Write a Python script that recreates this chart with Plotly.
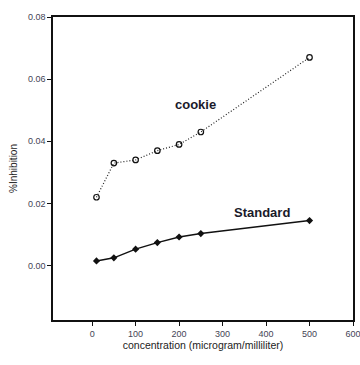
import plotly.graph_objects as go

conc = [10, 50, 100, 150, 200, 250, 500]
cookie = [0.022, 0.033, 0.034, 0.037, 0.039, 0.043, 0.067]
standard = [0.0015, 0.0025, 0.0053, 0.0074, 0.0092, 0.0103, 0.0145]

fig = go.Figure()
fig.add_trace(go.Scatter(x=conc, y=cookie, mode="lines+markers",
                         line=dict(color="#222", width=1.2, dash="1px,2px"),
                         marker=dict(symbol="circle-open", size=5.5, color="#111", line=dict(width=1.2))))
fig.add_trace(go.Scatter(x=conc, y=standard, mode="lines+markers",
                         line=dict(color="#111", width=1.5),
                         marker=dict(symbol="diamond", size=5.5, color="#111")))

fig.add_annotation(x=237, y=0.052, text="<b>cookie</b>", showarrow=False,
                   font=dict(family="Liberation Sans Narrow, Liberation Sans", size=13, color="#1a1a2a"))
fig.add_annotation(x=390, y=0.0172, text="<b>Standard</b>", showarrow=False,
                   font=dict(family="Liberation Sans Narrow, Liberation Sans", size=13, color="#1a1a2a"))

axis_common = dict(showline=True, linecolor="#111", linewidth=1.5, mirror=True, automargin=False,
                   ticks="outside", ticklen=4, tickcolor="#111", showgrid=False, zeroline=False,
                   ticklabeloverflow="allow",
                   tickfont=dict(family="Liberation Sans Narrow, Liberation Sans", size=9, color="#445"))

fig.update_xaxes(range=[-90, 600], tickvals=[0, 100, 200, 300, 400, 500, 600],
                 title=dict(text="concentration (microgram/milliliter)", standoff=2,
                            font=dict(family="Liberation Sans Narrow, Liberation Sans", size=10.5, color="#222")),
                 **axis_common)
fig.update_yaxes(range=[-0.0175, 0.08], tickvals=[0.0, 0.02, 0.04, 0.06, 0.08],
                 ticktext=["0.00", "0.02", "0.04", "0.06", "0.08"],
                 title=dict(text="%Inhibition", standoff=8,
                            font=dict(family="Liberation Sans Narrow, Liberation Sans", size=10, color="#222")),
                 **axis_common)

fig.update_layout(width=360, height=365, margin=dict(l=53, r=7, t=17, b=45),
                  showlegend=False, plot_bgcolor="white", paper_bgcolor="white")
fig.write_html("out.html", config={"displayModeBar": False},
               post_script="document.body.style.margin='0';document.body.style.overflow='hidden';")
